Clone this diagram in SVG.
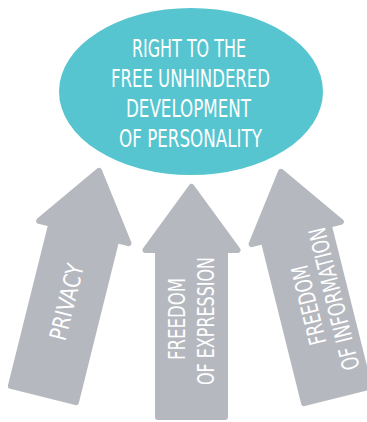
<svg xmlns="http://www.w3.org/2000/svg" width="367" height="422" viewBox="0 0 367 422">
<defs>
<style>
.arrow{fill:#b6b8bf;stroke:#b6b8bf;stroke-width:6;stroke-linejoin:round}
.t{font-family:"DejaVu Sans Condensed","Liberation Sans",sans-serif;fill:#ffffff;text-anchor:middle;font-size:23.5px}
.h{font-size:24.5px}
</style>
<path id="arr" d="M0,4 L46,67 L33.5,67 L33.5,234 L-33.5,234 L-33.5,67 L-46,67 Z"/>
</defs>
<rect width="367" height="422" fill="#ffffff"/>
<g id="connectors">
<g id="arrow-privacy" transform="translate(100,167) rotate(14)">
<use href="#arr" class="arrow"/>
<g transform="translate(0,139) rotate(-90)">
<text class="t" x="0" y="8.5" textLength="78" lengthAdjust="spacingAndGlyphs">PRIVACY</text>
</g>
</g>
<g id="arrow-expression" transform="translate(191.5,183)">
<use href="#arr" class="arrow"/>
<g transform="translate(0,138) rotate(-90)">
<text class="t" x="2" y="-6.5" textLength="82" lengthAdjust="spacingAndGlyphs">FREEDOM</text>
<text class="t" x="0" y="22" textLength="128" lengthAdjust="spacingAndGlyphs">OF EXPRESSION</text>
</g>
</g>
<g id="arrow-information" transform="translate(280,168) rotate(-14)">
<use href="#arr" class="arrow"/>
<g transform="translate(0,140) rotate(-90)">
<text class="t" x="0" y="3" textLength="81" lengthAdjust="spacingAndGlyphs">FREEDOM</text>
<text class="t" x="0" y="29" textLength="146" lengthAdjust="spacingAndGlyphs">OF INFORMATION</text>
</g>
</g>
</g>
<g id="node-personality">
<ellipse cx="191" cy="91.5" rx="132" ry="83.5" fill="#56c5d0"/>
<text class="t h" x="189" y="57.3" textLength="114" lengthAdjust="spacingAndGlyphs">RIGHT TO THE</text>
<text class="t h" x="190.5" y="87.3" textLength="159" lengthAdjust="spacingAndGlyphs">FREE UNHINDERED</text>
<text class="t h" x="188.5" y="117.3" textLength="125" lengthAdjust="spacingAndGlyphs">DEVELOPMENT</text>
<text class="t h" x="190.5" y="147.3" textLength="143" lengthAdjust="spacingAndGlyphs">OF PERSONALITY</text>
</g>
</svg>
